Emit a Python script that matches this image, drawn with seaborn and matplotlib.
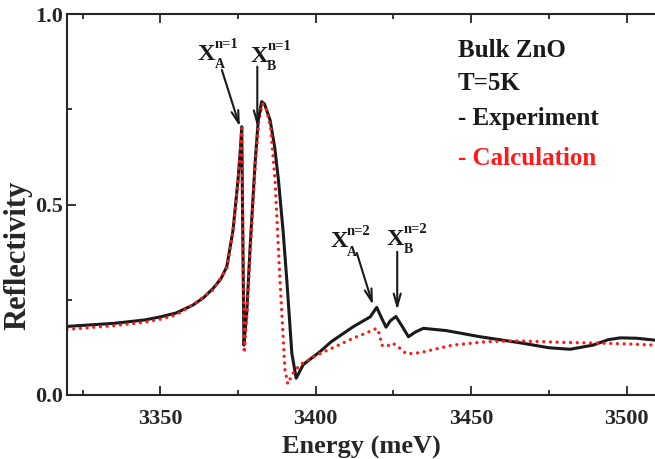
import numpy as np
import pandas as pd
import matplotlib
matplotlib.use('Agg')
import matplotlib.pyplot as plt
from matplotlib.ticker import MultipleLocator
import seaborn as sns

# Experiment (black solid)
energy_exp = [3320, 3335, 3345, 3350, 3355, 3360.5, 3364, 3367, 3369.5, 3371.4, 3373.4,
              3375.0, 3375.8, 3376.2, 3376.5, 3376.9, 3377.3, 3377.8, 3378.9, 3380.5,
              3381.5, 3382.6, 3383.5, 3385.3, 3386.8, 3388.0, 3389.5, 3390.7, 3392.3,
              3393.7, 3396, 3401.4, 3405, 3412, 3417.5, 3419.6, 3421, 3422.6, 3424,
              3425.8, 3427.8, 3429.8, 3432, 3434.6, 3442, 3452.8, 3465.7, 3475, 3481.8,
              3489.2, 3494, 3497.9, 3503.2, 3509]
refl_exp = [0.180, 0.188, 0.197, 0.205, 0.215, 0.236, 0.256, 0.280, 0.305, 0.337, 0.433,
            0.564, 0.650, 0.704, 0.450, 0.131, 0.170, 0.215, 0.390, 0.610,
            0.720, 0.770, 0.764, 0.722, 0.650, 0.564, 0.430, 0.300, 0.110,
            0.044, 0.080, 0.114, 0.140, 0.179, 0.205, 0.230, 0.205, 0.178, 0.195,
            0.206, 0.180, 0.153, 0.165, 0.175, 0.169, 0.153, 0.137, 0.124, 0.120,
            0.131, 0.145, 0.150, 0.149, 0.144]

# Calculation (red dotted)
energy_calc = [3320, 3335, 3345, 3350, 3355, 3360, 3367, 3371.4, 3373.4, 3375.0, 3375.8,
               3376.2, 3376.6, 3377.0, 3377.4, 3377.9, 3379.0, 3380.6, 3381.7, 3382.8,
               3384, 3385.5, 3386.9, 3388.5, 3390.1, 3391, 3392.5, 3395, 3401.4, 3405,
               3412, 3416, 3419.6, 3420.5, 3421.2, 3422.8, 3424.4, 3426, 3428, 3429.3,
               3433.5, 3444, 3455, 3465, 3480, 3492, 3500, 3509]
refl_calc = [0.172, 0.182, 0.191, 0.199, 0.210, 0.234, 0.276, 0.333, 0.430, 0.560, 0.650,
             0.700, 0.400, 0.110, 0.160, 0.215, 0.390, 0.610, 0.720, 0.765,
             0.755, 0.700, 0.564, 0.300, 0.066, 0.029, 0.055, 0.080, 0.109, 0.122,
             0.149, 0.162, 0.175, 0.160, 0.131, 0.127, 0.136, 0.131, 0.115, 0.108,
             0.111, 0.131, 0.140, 0.142, 0.138, 0.136, 0.134, 0.131]

# exciton labels: (subscript, superscript)
exciton_sub = ['A', 'B', 'A', 'B']
exciton_sup = ['n=1', 'n=1', 'n=2', 'n=2']

df_exp = pd.DataFrame({'Energy': energy_exp, 'R': refl_exp})
df_calc = pd.DataFrame({'Energy': energy_calc, 'R': refl_calc})

sns.set_style('ticks')
plt.rcParams['font.family'] = ['Liberation Serif', 'DejaVu Serif']
plt.rcParams['font.weight'] = 'bold'
plt.rcParams['axes.labelweight'] = 'bold'

fig = plt.figure(figsize=(6.55, 4.59), dpi=100)
ax = fig.add_axes([67 / 655, 64 / 459, 588 / 655, 381 / 459])

sns.lineplot(data=df_exp, x='Energy', y='R', ax=ax, color='#1a1a1a', lw=2.2)
sns.lineplot(data=df_calc, x='Energy', y='R', ax=ax, color='#ff1a1a', lw=2.4,
             linestyle=(0, (0.01, 2.0)), dash_capstyle='round')

ax.set_xlim(3320, 3509.1)
ax.set_ylim(0, 1.0)
ax.xaxis.set_major_locator(MultipleLocator(50))
ax.xaxis.set_minor_locator(MultipleLocator(25))
ax.yaxis.set_major_locator(MultipleLocator(0.5))
ax.yaxis.set_minor_locator(MultipleLocator(0.25))
ax.tick_params(which='both', direction='in', top=True, right=False, width=1.3)
ax.tick_params(which='major', length=6.5, labelsize=16)
ax.tick_params(which='minor', length=3.6)
ax.tick_params(axis='x', pad=10)
ax.tick_params(axis='y', pad=3)
ax.spines['right'].set_visible(False)
for s in ['left', 'top', 'bottom']:
    ax.spines[s].set_linewidth(1.5)

ax.set_xlabel('Energy (meV)', fontsize=19)
ax.set_ylabel('Reflectivity', fontsize=22)
ax.xaxis.set_label_coords(0.5, -0.108)
ax.yaxis.set_label_coords(-0.058, 0.367)

# exciton labels and arrows
label_pos = [(3362.1, 0.879), (3378.9, 0.874), (3404.6, 0.388), (3422.9, 0.394)]
for (x, y), sub, sup in zip(label_pos, exciton_sub, exciton_sup):
    ax.text(x, y, 'X', fontsize=17.5, ha='left', va='baseline', color='#1a1a1a')
    ax.annotate(sup, xy=(x, y), xytext=(12.3, 8.5), textcoords='offset points',
                fontsize=10.5, ha='left', va='baseline', color='#1a1a1a')
    ax.annotate(sub, xy=(x, y), xytext=(12.3, -6), textcoords='offset points',
                fontsize=10, ha='left', va='baseline', color='#1a1a1a')

arrows = [((3369.8, 0.853), (3375.6, 0.704)),
          ((3381.2, 0.862), (3381.2, 0.704)),
          ((3413.2, 0.373), (3418.4, 0.236)),
          ((3426.2, 0.376), (3426.2, 0.223))]
for start, tip in arrows:
    ax.annotate('', xy=tip, xytext=start,
                arrowprops=dict(arrowstyle='->,head_length=0.9,head_width=0.25',
                                color='#1a1a1a', lw=1.5, shrinkA=0, shrinkB=0))

ax.text(0.665, 0.887, 'Bulk ZnO', transform=ax.transAxes, fontsize=18, color='#1a1a1a')
ax.text(0.665, 0.800, 'T=5K', transform=ax.transAxes, fontsize=18, color='#1a1a1a')
ax.text(0.665, 0.709, '- Experiment', transform=ax.transAxes, fontsize=18, color='#1a1a1a')
ax.text(0.665, 0.604, '- Calculation', transform=ax.transAxes, fontsize=18, color='#ff1a1a')

fig.savefig('out.png', dpi=100)
